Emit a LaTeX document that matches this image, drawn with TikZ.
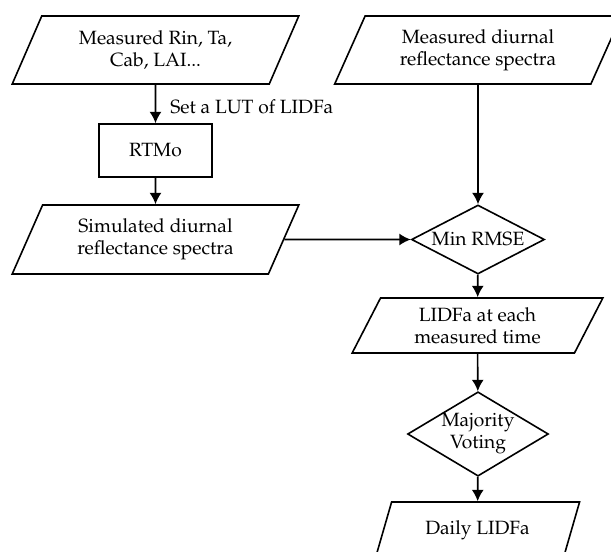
\documentclass[tikz,border=0pt]{standalone}
\usepackage[T1]{fontenc}
\usepackage{mathpazo}
\usetikzlibrary{shapes.geometric,arrows.meta}

\tikzset{every picture/.style={line width=1.2pt}}
\tikzset{
  iobox/.style={draw, trapezium, trapezium left angle=63, trapezium right angle=117,
    trapezium stretches=true, align=center, inner sep=0pt},
  procbox/.style={draw, rectangle, align=center, inner sep=0pt},
  decbox/.style={draw, diamond, aspect=2, align=center, inner sep=0pt},
  flow/.style={-{Latex[length=8.5pt,width=9pt]}}
}

\begin{document}
\begin{tikzpicture}[x=0.75pt,y=0.75pt,yscale=-1,xscale=1,
  font=\fontsize{14.4}{16.5}\selectfont]
\useasboundingbox (0,0) rectangle (611,551);

% Text Node
\draw (155.5,50) node [iobox, minimum width=215.25pt, minimum height=51pt] (measin) {Measured Rin, Ta,\\Cab, LAI...};
% Text Node
\draw (478,50) node [iobox, minimum width=215.25pt, minimum height=51pt] (measrefl) {Measured diurnal\\reflectance spectra};
% Text Node
\draw (155.5,150.5) node [procbox, minimum width=84.75pt, minimum height=39.75pt] (rtmo) {RTMo};
% Text Node
\draw (155.5,239.5) node [iobox, minimum width=215.25pt, minimum height=51.75pt] (simrefl) {Simulated diurnal\\reflectance spectra};
% Text Node
\draw (478,239.5) node [decbox, minimum width=99.75pt, minimum height=51.75pt] (minrmse) {Min RMSE};
% Text Node
\draw (477.5,325.5) node [iobox, minimum width=188.25pt, minimum height=41.25pt] (lidfat) {LIDFa at each\\measured time};
% Text Node
\draw (478,434) node [decbox, aspect=1.67, minimum width=100.5pt, minimum height=60pt] (vote) {Majority\\Voting};
% Text Node
\draw (477.5,530) node [iobox, minimum width=153.75pt, minimum height=42pt] (daily) {Daily LIDFa};

% Connection
\draw [flow] (measin) -- node [pos=0.58, anchor=west, xshift=10.5pt, inner sep=0pt] {Set a LUT of LIDFa} (rtmo);
% Connection
\draw [flow] (rtmo) -- (simrefl);
% Connection
\draw [flow] (simrefl.east) -- (minrmse.west);
% Connection
\draw [flow] (measrefl) -- (minrmse);
% Connection
\draw [flow] (minrmse) -- (lidfat);
% Connection
\draw [flow] (lidfat) -- (vote);
% Connection
\draw [flow] (vote) -- (daily);

\end{tikzpicture}
\end{document}
